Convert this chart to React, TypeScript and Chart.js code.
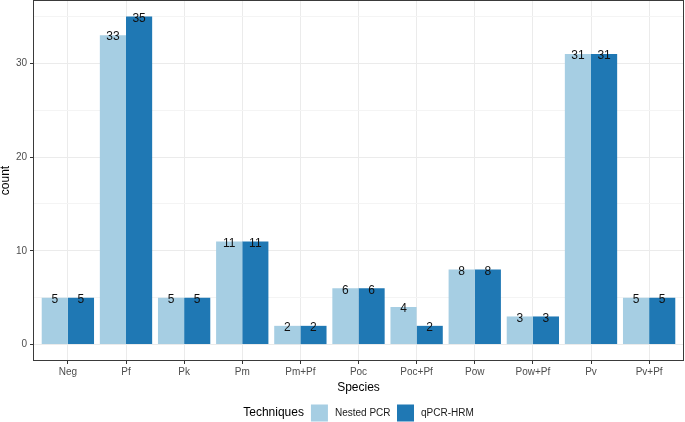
import React, { useEffect, useRef } from 'react';
import { Chart, registerables } from 'chart.js';

Chart.register(...registerables);

const categories = ['Neg', 'Pf', 'Pk', 'Pm', 'Pm+Pf', 'Poc', 'Poc+Pf', 'Pow', 'Pow+Pf', 'Pv', 'Pv+Pf'];
const nestedPCR = [5, 33, 5, 11, 2, 6, 4, 8, 3, 31, 5];
const qpcrHRM = [5, 35, 5, 11, 2, 6, 2, 8, 3, 31, 5];
const seriesNames = ['Nested PCR', 'qPCR-HRM'];
const seriesColors = ['#A6CEE3', '#1F78B4'];
const yTicks = [0, 5, 10, 15, 20, 25, 30, 35];
const legendTitle = 'Techniques';
const xTitle = 'Species';
const yTitle = 'count';

const FONT = '"Liberation Sans", Arial, sans-serif';

export default function App() {
  const ref = useRef<HTMLCanvasElement>(null);

  useEffect(() => {
    if (!ref.current) return;

    const labelsPlugin = {
      id: 'barLabels',
      afterDatasetsDraw(chart: any) {
        const ctx = chart.ctx;
        ctx.save();
        ctx.font = `12px ${FONT}`;
        ctx.fillStyle = '#111111';
        ctx.textAlign = 'center';
        ctx.textBaseline = 'middle';
        chart.data.datasets.forEach((ds: any, di: number) => {
          const meta = chart.getDatasetMeta(di);
          meta.data.forEach((el: any, i: number) => {
            const v = ds.data[i].y;
            ctx.fillText(String(v), el.x, el.y + 2);
          });
        });
        ctx.restore();
      },
    };

    const panelPlugin = {
      id: 'panelAndLegend',
      afterDraw(chart: any) {
        const ctx = chart.ctx;
        const a = chart.chartArea;
        ctx.save();
        // panel border
        ctx.strokeStyle = '#3a3a3a';
        ctx.lineWidth = 1;
        ctx.strokeRect(Math.round(a.left) + 0.5, Math.round(a.top) + 0.5,
          Math.round(a.right - a.left) - 1, Math.round(a.bottom - a.top) - 1);

        // legend
        const titleFont = `12px ${FONT}`;
        const itemFont = `10px ${FONT}`;
        ctx.font = titleFont;
        const tw = ctx.measureText(legendTitle).width;
        ctx.font = itemFont;
        const widths = seriesNames.map((n) => ctx.measureText(n).width);
        const box = 17;
        const gapTitle = 7;
        const gapBoxText = 7;
        const gapItem = 6.5;
        let total = tw + gapTitle;
        widths.forEach((w, i) => {
          total += box + gapBoxText + w + (i < widths.length - 1 ? gapItem : 0);
        });
        let x = (a.left + a.right) / 2 - total / 2;
        const cy = 413;
        ctx.textBaseline = 'middle';
        ctx.textAlign = 'left';
        ctx.fillStyle = '#000000';
        ctx.font = titleFont;
        ctx.fillText(legendTitle, x, cy);
        x += tw + gapTitle;
        seriesNames.forEach((n, i) => {
          ctx.fillStyle = seriesColors[i];
          ctx.fillRect(x, cy - box / 2, box, box);
          x += box + gapBoxText;
          ctx.fillStyle = '#1a1a1a';
          ctx.font = itemFont;
          ctx.fillText(n, x, cy);
          x += widths[i] + gapItem;
        });
        ctx.restore();
      },
    };

    const chart = new Chart(ref.current, {
      type: 'bar',
      data: {
        datasets: [
          {
            label: seriesNames[0],
            data: categories.map((_, i) => ({ x: i, y: nestedPCR[i] })),
            backgroundColor: seriesColors[0],
            borderWidth: 0,
          },
          {
            label: seriesNames[1],
            data: categories.map((_, i) => ({ x: i, y: qpcrHRM[i] })),
            backgroundColor: seriesColors[1],
            borderWidth: 0,
          },
        ],
      },
      options: {
        responsive: false,
        animation: false,
        devicePixelRatio: 1,
        categoryPercentage: 0.9,
        barPercentage: 1.0,
        layout: { padding: { top: 0, right: 1, bottom: 0, left: 0 } },
        plugins: {
          legend: { display: false },
          tooltip: { enabled: false },
        },
        scales: {
          x: {
            type: 'linear',
            min: -0.6,
            max: categories.length - 1 + 0.6,
            offset: false,
            afterBuildTicks: (s: any) => {
              s.ticks = categories.map((_, i) => ({ value: i }));
            },
            afterFit: (s: any) => {
              s.height = 61;
              s.paddingLeft = 0;
              s.paddingRight = 0;
            },
            ticks: {
              callback: (v: any) => categories[v] ?? '',
              autoSkip: false,
              maxRotation: 0,
              minRotation: 0,
              color: '#4D4D4D',
              font: { size: 10, family: FONT },
              padding: 2,
            },
            grid: {
              offset: false,
              color: '#EBEBEB',
              lineWidth: 1,
              tickColor: '#333333',
              tickLength: 3,
            },
            border: { display: false },
            title: {
              display: true,
              text: xTitle,
              color: '#000000',
              font: { size: 12, family: FONT },
              padding: { top: 0, bottom: 27 },
            },
          },
          y: {
            type: 'linear',
            min: -1.75,
            max: 36.75,
            afterBuildTicks: (s: any) => {
              s.ticks = yTicks.map((v) => ({ value: v }));
            },
            afterFit: (s: any) => {
              s.width = 33;
              s.paddingTop = 0;
              s.paddingBottom = 0;
            },
            ticks: {
              callback: (v: any) => (v % 10 === 0 ? String(v) : ''),
              color: '#4D4D4D',
              font: { size: 10, family: FONT },
              padding: 3,
            },
            grid: {
              color: (c: any) => (c.tick && c.tick.value % 10 === 0 ? '#EBEBEB' : '#F4F4F4'),
              lineWidth: 1,
              tickColor: (c: any) => (c.tick && c.tick.value % 10 === 0 ? '#333333' : 'rgba(0,0,0,0)'),
              tickLength: 3,
            },
            border: { display: false },
            title: {
              display: true,
              text: yTitle,
              color: '#000000',
              font: { size: 12, family: FONT },
              padding: { top: -1.5, bottom: 0 },
            },
          },
        },
      },
      plugins: [labelsPlugin, panelPlugin],
    } as any);

    return () => chart.destroy();
  }, []);

  return (
    <div style={{ position: 'fixed', left: 0, top: 0, width: 685, height: 422, background: '#ffffff' }}>
      <canvas ref={ref} width={685} height={422} style={{ display: 'block', width: 685, height: 422 }} />
    </div>
  );
}
